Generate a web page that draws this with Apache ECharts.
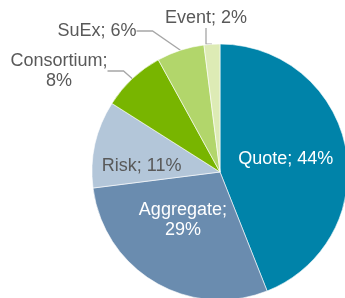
<!DOCTYPE html>
<html>
<head>
<meta charset="utf-8">
<script src="https://cdn.jsdelivr.net/npm/echarts@6/dist/echarts.min.js"></script>
<style>
  html, body { margin: 0; padding: 0; background: #fff; }
  #chart { width: 345px; height: 298px; }
</style>
</head>
<body>
<div id="chart"></div>
<script>
// slice names and shares (%), clockwise from 12 o'clock
var names = ['Quote', 'Aggregate', 'Risk', 'Consortium', 'SuEx', 'Event'];
var shares = [44, 29, 11, 8, 6, 2];
var colors = ['#0083A9', '#6A8CAF', '#B3C6D9', '#78B500', '#B2D66B', '#DDEBB5'];

// label text for each slice
var labelTexts = ['Quote; 44%', 'Aggregate;\n29%', 'Risk; 11%', 'Consortium;\n8%', 'SuEx; 6%', 'Event; 2%'];

var myChart = echarts.init(document.getElementById('chart'));

var pieData = [];
for (var i = 0; i < names.length; i++) {
  var inside = i < 3;
  pieData.push({
    name: names[i],
    value: shares[i],
    itemStyle: { color: colors[i] },
    label: {
      position: inside ? 'inside' : 'outside',
      color: (i === 2 || !inside) ? '#595959' : '#fff',
      formatter: labelTexts[i]
    },
    labelLine: { show: !inside }
  });
}

// where the outside labels sit (label centres)
var outsidePos = { 3: [59, 71], 4: [97, 31], 5: [206, 18] };

var option = {
  backgroundColor: '#fff',
  animation: false,
  series: [{
    type: 'pie',
    center: [220, 172],
    radius: 128,
    startAngle: 90,
    clockwise: true,
    itemStyle: { borderColor: '#fff', borderWidth: 0.6 },
    label: {
      fontFamily: 'Liberation Sans, Arial, sans-serif',
      fontSize: 18,
      lineHeight: 20,
      align: 'center',
      overflow: 'none'
    },
    labelLine: {
      length: 14,
      length2: 16,
      lineStyle: { color: '#a6a6a6', width: 1.3 }
    },
    labelLayout: function (params) {
      var p = outsidePos[params.dataIndex];
      if (p) {
        return { x: p[0], y: p[1], align: 'center', verticalAlign: 'middle' };
      }
      if (params.dataIndex === 2) {
        return { dx: -13, dy: 9 };
      }
      if (params.dataIndex === 1) {
        return { dx: -3, dy: -10 };
      }
      return {};
    },
    data: pieData
  }]
};

myChart.setOption(option);
</script>
</body>
</html>
